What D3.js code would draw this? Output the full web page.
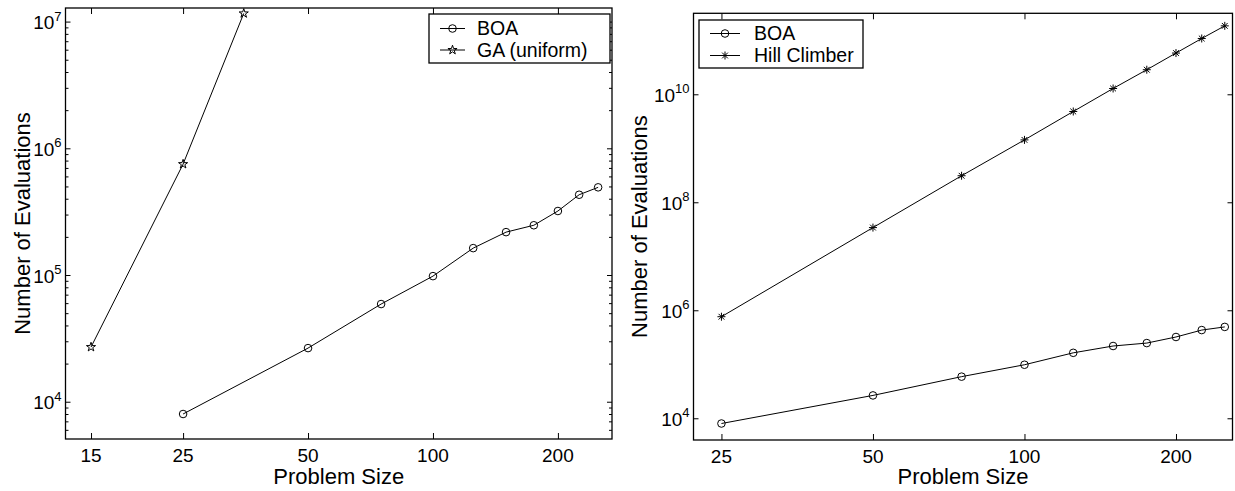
<!DOCTYPE html>
<html>
<head>
<meta charset="utf-8">
<script src="https://cdn.jsdelivr.net/npm/d3@7"></script>
<style>
  html, body { margin: 0; padding: 0; background: #fff; }
  svg { display: block; }
  text { font-family: "Liberation Sans", Arial, Helvetica, sans-serif; fill: #000; }
</style>
</head>
<body>
<svg id="chart" width="1235" height="491"></svg>
<script>
// ---------------- data ----------------
const boaSizes = [25, 50, 75, 100, 125, 150, 175, 200, 225, 250];
const boaEvals = [8000, 26500, 59000, 98000, 163000, 218000, 247000, 320000, 430000, 492000];

const gaSizes = [15, 25, 35];
const gaEvals = [27000, 750000, 11600000];

const hcSizes = [25, 50, 75, 100, 125, 150, 175, 200, 225, 250];
const hcEvals = [7.6e5, 3.4e7, 3.1e8, 1.43e9, 4.8e9, 1.28e10, 2.85e10, 5.8e10, 1.08e11, 1.85e11];

const leftXTicks = [15, 25, 50, 100, 200];
const rightXTicks = [25, 50, 100, 200];
const leftYTickExps = [4, 5, 6, 7];
const rightYTickExps = [4, 6, 8, 10];

const xLabel = "Problem Size";
const yLabel = "Number of Evaluations";
const leftLegend = ["BOA", "GA (uniform)"];
const rightLegend = ["BOA", "Hill Climber"];

// ---------------- drawing ----------------
const svg = d3.select("#chart");

function starPath(r) {
  const ri = r * 0.382;
  const pts = [];
  for (let i = 0; i < 10; i++) {
    const a = -Math.PI / 2 + i * Math.PI / 5;
    const rr = i % 2 === 0 ? r : ri;
    pts.push([rr * Math.cos(a), rr * Math.sin(a)]);
  }
  return "M" + pts.map(p => p[0].toFixed(2) + "," + p[1].toFixed(2)).join("L") + "Z";
}
function asteriskPath(r) {
  const d = r * 0.72;
  return `M${-r},0L${r},0M0,${-r}L0,${r}M${-d},${-d}L${d},${d}M${-d},${d}L${d},${-d}`;
}

function drawMarker(g, type, x, y) {
  if (type === "circle") {
    g.append("circle").attr("cx", x).attr("cy", y).attr("r", 3.8)
      .attr("fill", "none").attr("stroke", "#000").attr("stroke-width", 1);
  } else if (type === "star") {
    g.append("path").attr("d", starPath(4.8)).attr("transform", `translate(${x},${y})`)
      .attr("fill", "none").attr("stroke", "#000").attr("stroke-width", 1);
  } else {
    g.append("path").attr("d", asteriskPath(4)).attr("transform", `translate(${x},${y})`)
      .attr("fill", "none").attr("stroke", "#000").attr("stroke-width", 1);
  }
}

function panel(cfg) {
  const g = svg.append("g");
  const x = d3.scaleLog().domain(cfg.xDomain).range([cfg.left, cfg.right]);
  const y = d3.scaleLog().domain(cfg.yDomain).range([cfg.bottom, cfg.top]);
  const W = cfg.right - cfg.left, H = cfg.bottom - cfg.top;

  // axes with inward ticks (bottom + top)
  g.append("g").attr("transform", `translate(0,${cfg.bottom})`)
    .call(d3.axisTop(x).tickValues(cfg.xTicks).tickFormat("").tickSize(6).tickSizeOuter(0));
  g.append("g").attr("transform", `translate(0,${cfg.top})`)
    .call(d3.axisBottom(x).tickValues(cfg.xTicks).tickFormat("").tickSize(6).tickSizeOuter(0));
  // tick labels
  g.append("g").selectAll("text").data(cfg.xTicks).join("text")
    .attr("x", d => x(d)).attr("y", cfg.bottom + 22.5)
    .attr("text-anchor", "middle").attr("font-size", 19).text(d => d);

  // y major ticks
  const majors = cfg.yExps.map(e => Math.pow(10, e));
  g.append("g").attr("transform", `translate(${cfg.left},0)`)
    .call(d3.axisRight(y).tickValues(majors).tickFormat("").tickSize(5).tickSizeOuter(0));
  g.append("g").attr("transform", `translate(${cfg.right},0)`)
    .call(d3.axisLeft(y).tickValues(majors).tickFormat("").tickSize(5).tickSizeOuter(0));
  // y minor ticks
  if (cfg.minor) {
    const minors = [];
    const lo = Math.floor(Math.log10(cfg.yDomain[0])), hi = Math.ceil(Math.log10(cfg.yDomain[1]));
    for (let e = lo; e <= hi; e++) for (let m = 2; m <= 9; m++) {
      const v = m * Math.pow(10, e);
      if (v > cfg.yDomain[0] && v < cfg.yDomain[1]) minors.push(v);
    }
    g.append("g").attr("transform", `translate(${cfg.left},0)`)
      .call(d3.axisRight(y).tickValues(minors).tickFormat("").tickSize(3).tickSizeOuter(0));
    g.append("g").attr("transform", `translate(${cfg.right},0)`)
      .call(d3.axisLeft(y).tickValues(minors).tickFormat("").tickSize(3).tickSizeOuter(0));
  }
  g.selectAll(".domain").remove();
  g.selectAll(".tick line").attr("stroke", "#000").attr("stroke-width", 1);

  // y tick labels 10^e
  cfg.yExps.forEach(e => {
    const t = g.append("text").attr("x", cfg.left - 4).attr("y", y(Math.pow(10, e)) + 7.5)
      .attr("text-anchor", "end").attr("font-size", 19);
    t.append("tspan").text("10");
    t.append("tspan").attr("font-size", 13).attr("dy", -8.5).text(e);
  });

  // frame
  g.append("rect").attr("x", cfg.left).attr("y", cfg.top).attr("width", W).attr("height", H)
    .attr("fill", "none").attr("stroke", "#000").attr("stroke-width", 1.3);

  // axis labels
  g.append("text").attr("x", (cfg.left + cfg.right) / 2).attr("y", 483.5)
    .attr("text-anchor", "middle").attr("font-size", 22).text(xLabel);
  g.append("text").attr("transform", `translate(${cfg.yLabelX},${(cfg.top + cfg.bottom) / 2}) rotate(-90)`)
    .attr("text-anchor", "middle").attr("font-size", 22).text(yLabel);

  // series
  const line = d3.line().x(d => x(d[0])).y(d => y(d[1]));
  cfg.series.forEach(s => {
    const pts = s.sizes.map((v, i) => [v, s.evals[i]]);
    g.append("path").datum(pts).attr("d", line).attr("fill", "none")
      .attr("stroke", "#000").attr("stroke-width", 1);
    pts.forEach(p => drawMarker(g, s.marker, x(p[0]), y(p[1])));
  });

  // legend
  const L = cfg.legend;
  g.append("rect").attr("x", L.x).attr("y", L.y).attr("width", L.w).attr("height", L.h)
    .attr("fill", "#fff").attr("stroke", "#000").attr("stroke-width", 1.3);
  cfg.series.forEach((s, i) => {
    const yy = L.y + L.row0 + i * L.dy;
    g.append("line").attr("x1", L.x + L.lx0).attr("x2", L.x + L.lx1).attr("y1", yy).attr("y2", yy)
      .attr("stroke", "#000").attr("stroke-width", 1);
    drawMarker(g, s.marker, L.x + (L.lx0 + L.lx1) / 2, yy);
    g.append("text").attr("x", L.x + L.tx).attr("y", yy + 6.8).attr("font-size", 19.5).text(L.labels[i]);
  });
}

panel({
  left: 65.5, right: 612, top: 8, bottom: 439,
  xDomain: [13.02, 270], yDomain: [5080, 1.28e7],
  xTicks: leftXTicks, yExps: leftYTickExps, minor: true, yLabelX: 30,
  series: [
    { sizes: boaSizes, evals: boaEvals, marker: "circle" },
    { sizes: gaSizes, evals: gaEvals, marker: "star" }
  ],
  legend: { x: 429, y: 14, w: 181, h: 49, row0: 14.5, dy: 21.5, lx0: 11, lx1: 36, tx: 48, labels: leftLegend }
});

panel({
  left: 693.5, right: 1232.5, top: 13.3, bottom: 440,
  xDomain: [22.0, 259], yDomain: [3960, 3.16e11],
  xTicks: rightXTicks, yExps: rightYTickExps, minor: false, yLabelX: 647,
  series: [
    { sizes: boaSizes, evals: boaEvals, marker: "circle" },
    { sizes: hcSizes, evals: hcEvals, marker: "asterisk" }
  ],
  legend: { x: 699, y: 20, w: 164, h: 48, row0: 13.5, dy: 22, lx0: 11, lx1: 41, tx: 55, labels: rightLegend }
});
</script>
</body>
</html>
